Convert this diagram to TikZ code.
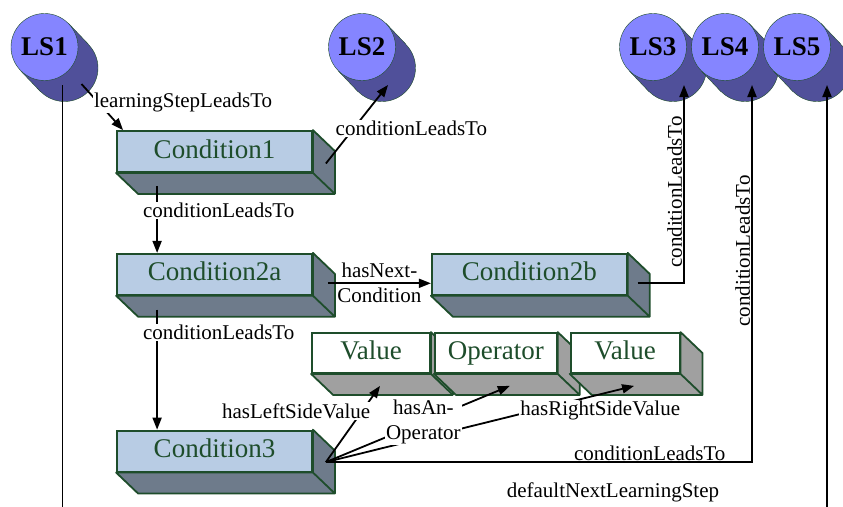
\documentclass[tikz,border=0pt]{standalone}
\usepackage{fontspec}
\setmainfont{Liberation Serif}
\usetikzlibrary{calc}
\usetikzlibrary{positioning}
\usetikzlibrary{arrows.meta}
\definecolor{edgegreen}{HTML}{1E4D2B}
\definecolor{condface}{HTML}{B8CCE4}
\definecolor{condside}{HTML}{6E7B8B}
\definecolor{valside}{HTML}{A0A0A0}
\definecolor{lsfront}{HTML}{8585FF}
\definecolor{lsback}{HTML}{50509A}
\tikzset{
	>={Triangle[length=12pt,width=9pt]},
	sidefaces/.style={
		append after command={
			\pgfextra{
				\filldraw[draw=edgegreen, line width=1.8pt, fill=#1, line join=round]
				(\tikzlastnode.north east) -- ++(22,21)
				-- ([shift={(22,21)}]\tikzlastnode.south east)
				-- ([shift={(22,21)}]\tikzlastnode.south west)
				-- (\tikzlastnode.south west) -- (\tikzlastnode.south east) -- cycle
				(\tikzlastnode.south east) -- ++(22,21);
			}
		}},
	boxbase/.style={
		rectangle, 
		draw=edgegreen, line width=1.8pt,
		minimum width=195pt, 
		minimum height=41pt, 
		text height=18pt, text depth=5pt,
		text=edgegreen,
		font=\fontsize{27}{27}\selectfont},
	condbox/.style={boxbase, fill=condface, sidefaces=condside},
	valbox/.style={boxbase, fill=white, minimum height=40pt, sidefaces=valside},
	lsbase/.style={circle, fill=lsback, draw=edgegreen, thin, minimum size=67pt, inner sep=0pt},
	lsnode/.style={lsbase, fill=lsfront, font=\bfseries\fontsize{27}{27}\selectfont},
	link/.style={draw, line width=1.8pt, ->},
	lbl/.style={fill=white, inner sep=1pt, font=\fontsize{21}{25}\selectfont, align=center},
}
\begin{document}
\begin{tikzpicture}[x=1pt, y=-1pt]
	\useasboundingbox (0,0) rectangle (843,506);
	\clip (0,0) rectangle (843,506);
	% learning steps
	\foreach \n/\x in {1/44.5,2/362,3/653,4/725,5/797}{
		\node[lsbase] (LS\n-b) at (\x+20,68) {};
		\fill[lsback] (LS\n-b.45) -- ++(-20,-21) -- ([shift={(-20,-21)}]LS\n-b.225) -- (LS\n-b.225) -- cycle;
		\draw[edgegreen, thin] (LS\n-b.45) -- ++(-20,-21) (LS\n-b.225) -- ++(-20,-21);
		\node[lsnode] (LS\n) at (\x,47) {LS\n};
	}
	% conditions
	\node[condbox] (cond1) at (214.5,151.5) {Condition1};
	\node[condbox, below=80pt of cond1] (cond2a) {Condition2a};
	\node[condbox, right=118pt of cond2a] (cond2b) {Condition2b};
	\node[condbox, below=134pt of cond2a] (cond3) {Condition3};
	\node[valbox, minimum width=118pt] (val1) at (371,353) {Value};
	\node[valbox, minimum width=122pt, right=3pt of val1] (oper) {Operator};
	\node[valbox, minimum width=109pt, right=12pt of oper] (val2) {Value};
	% links
	\draw[link] ([shift={(17,16)}]LS1-b.center) -- ([xshift=7pt]cond1.north west)
		node[lbl, pos=.4, anchor=west, xshift=-6pt] {learningStepLeadsTo};
	\draw[link] ([shift={(13,12)}]cond1.east) -- ([shift={(6,17)}]LS2-b.center)
		node[lbl, pos=.45, anchor=west, xshift=-20pt] {conditionLeadsTo};
	\draw[link] ([shift={(41,13)}]cond1.south west) -- ([xshift=41pt]cond2a.north west)
		node[lbl, pos=.37, anchor=west, xshift=-16pt] {conditionLeadsTo};
	\draw[link] ([shift={(41,14)}]cond2a.south west) -- ([xshift=41pt]cond3.north west)
		node[lbl, pos=.19, anchor=west, xshift=-16pt] {conditionLeadsTo};
	\draw[link] ([shift={(15,9)}]cond2a.east) -- ([yshift=-9pt]cond2b.west)
		node[lbl, fill=none, midway] {hasNext-\\Condition};
	\draw[link] ([shift={(10,9)}]cond2b.east) -| ([shift={(11,17)}]LS3-b.center)
		node[lbl, pos=.73, rotate=90, anchor=south] {conditionLeadsTo};
	\draw[link] ([shift={(13,11)}]cond3.east) -| ([shift={(7,17)}]LS4-b.center)
		node[lbl, pos=.38, anchor=south] {conditionLeadsTo}
		node[lbl, pos=.78, rotate=90, anchor=south] {conditionLeadsTo};
	\draw[link] ([shift={(-2,17)}]LS1-b.center) -- ++(0,435) -| ([shift={(10,17)}]LS5-b.center)
		node[lbl, pos=.36, above=16pt] {defaultNextLearningStep};
	\draw[link] ([shift={(13,11)}]cond3.east) -- ([shift={(9,12)}]val2.south)
		node[lbl, pos=.89, yshift=-16pt] {hasRightSideValue};
	\draw[link] ([shift={(13,11)}]cond3.east) -- ([shift={(9,12)}]val1.south)
		node[lbl, pos=.67, anchor=east, xshift=10pt] {hasLeftSideValue};
	\draw[link] ([shift={(13,11)}]cond3.east) -- ([shift={(14,12)}]oper.south)
		node[lbl, pos=.53] {hasAn-\\Operator};
\end{tikzpicture}
\end{document}
